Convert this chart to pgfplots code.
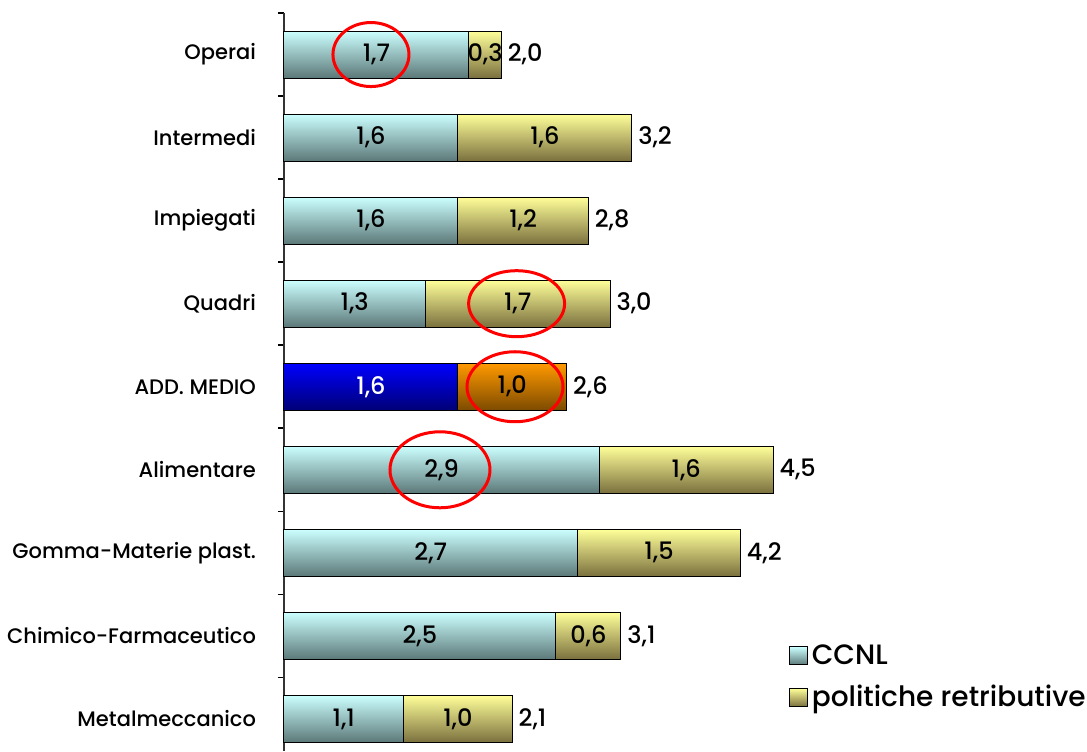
\documentclass[border=0pt]{standalone}
\usepackage{pgfplots}
\pgfplotsset{compat=1.18}
\usepackage{fontspec}
\setmainfont{Poppins}[UprightFont={* Medium}]
\definecolor{cyTop}{RGB}{204,255,255}
\definecolor{cyBot}{RGB}{92,120,120}
\definecolor{yeTop}{RGB}{255,255,153}
\definecolor{yeBot}{RGB}{122,112,62}
\definecolor{blTop}{RGB}{0,0,255}
\definecolor{blBot}{RGB}{0,0,118}
\definecolor{orTop}{RGB}{255,153,0}
\definecolor{orBot}{RGB}{125,75,0}
\pgfplotsset{
  barbase/.style={forget plot, xbar, bar shift=0pt, bar width=23.5pt, draw=black, line width=0.5pt},
  ccnl/.style={barbase, top color=cyTop, bottom color=cyBot},
  pol/.style={barbase, top color=yeTop, bottom color=yeBot},
  ccnlm/.style={barbase, top color=blTop, bottom color=blBot},
  polm/.style={barbase, top color=orTop, bottom color=orBot},
  lbl/.style={forget plot, draw=none, fill=none, mark=none, nodes near coords, point meta=explicit symbolic}
}
\begin{document}
\begin{tikzpicture}
\begin{axis}[
  at={(142pt,0pt)}, anchor=south west,
  scale only axis, width=401.5pt, height=369pt,
  xmin=0, xmax=7.387, ymin=-0.386, ymax=8.5,
  hide x axis,
  axis y line*=left,
  y axis line style={-, line width=1pt, color=black!80},
  ytick={0,...,8},
  yticklabels={Metalmeccanico,Chimico-Farmaceutico,Gomma-Materie plast.,Alimentare,ADD. MEDIO,Quadri,Impiegati,Intermedi,Operai},
  major tick length=0pt,
  minor ytick={-0.5,0.5,...,8.5},
  minor tick length=3pt,
  tick align=outside,
  minor y tick style={black, line width=0.8pt},
  yticklabel style={font=\fontsize{10.5}{13}\selectfont, anchor=east, xshift=-10.5pt},
  clip=false,
  legend style={at={(axis cs:4.64,0.95)}, anchor=north west, draw=none, fill=none,
    font=\fontsize{14}{16}\selectfont, row sep=5pt, inner sep=0pt,
    nodes={inner sep=2pt}},
  legend cell align=left,
  legend image code/.code={\draw[#1, draw=black, line width=0.5pt] (-2.5pt,-4.5pt) rectangle (6.5pt,4.5pt);},
]
% politiche retributive: drawn from 0 to the total (CCNL + politiche), covered on the left by the CCNL bar
\addplot[pol]  coordinates {(2.1,0)};
\addplot[pol]  coordinates {(3.1,1)};
\addplot[pol]  coordinates {(4.2,2)};
\addplot[pol]  coordinates {(4.5,3)};
\addplot[polm] coordinates {(2.6,4)};
\addplot[pol]  coordinates {(3.0,5)};
\addplot[pol]  coordinates {(2.8,6)};
\addplot[pol]  coordinates {(3.2,7)};
\addplot[pol]  coordinates {(2.0,8)};
% CCNL
\addplot[ccnl]  coordinates {(1.1,0)};
\addplot[ccnl]  coordinates {(2.5,1)};
\addplot[ccnl]  coordinates {(2.7,2)};
\addplot[ccnl]  coordinates {(2.9,3)};
\addplot[ccnlm] coordinates {(1.6,4)};
\addplot[ccnl]  coordinates {(1.3,5)};
\addplot[ccnl]  coordinates {(1.6,6)};
\addplot[ccnl]  coordinates {(1.6,7)};
\addplot[ccnl]  coordinates {(1.7,8)};

\addlegendimage{top color=cyTop, bottom color=cyBot}
\addlegendentry{CCNL}
\addlegendimage{top color=yeTop, bottom color=yeBot}
\addlegendentry{politiche retributive}

% value labels
\addplot[lbl, every node near coord/.style={anchor=center, font=\fontsize{12}{13}\selectfont, text=black}]
 coordinates {
 (0.55,0) [{1,1}] (1.25,1) [{2,5}] (1.35,2) [{2,7}] (1.45,3) [{2,9}] (0.65,5) [{1,3}] (0.8,6) [{1,6}] (0.8,7) [{1,6}] (0.85,8) [{1,7}]
 (1.6,0) [{1,0}] (2.8,1) [{0,6}] (3.45,2) [{1,5}] (3.7,3) [{1,6}] (2.1,4) [{1,0}] (2.15,5) [{1,7}] (2.2,6) [{1,2}] (2.4,7) [{1,6}] (1.85,8) [{0,3}]
 };
\addplot[lbl, every node near coord/.style={anchor=center, font=\fontsize{12}{13}\selectfont, text=white}]
 coordinates {(0.8,4) [{1,6}]};
\addplot[lbl, every node near coord/.style={anchor=west, inner sep=2pt, xshift=1pt, font=\fontsize{12}{13}\selectfont, text=black}]
 coordinates {
 (2.1,0) [{2,1}] (3.1,1) [{3,1}] (4.2,2) [{4,2}] (4.5,3) [{4,5}] (2.6,4) [{2,6}] (3.0,5) [{3,0}] (2.8,6) [{2,8}] (3.2,7) [{3,2}] (2.0,8) [{2,0}]
 };

% highlighting ellipses
\draw[red, line width=1.5pt] (axis cs:0.80,8) ellipse [x radius=19pt, y radius=16pt];
\draw[red, line width=1.5pt] (axis cs:2.14,5) ellipse [x radius=24pt, y radius=16.5pt];
\draw[red, line width=1.5pt] (axis cs:2.125,4) ellipse [x radius=24pt, y radius=17.5pt];
\draw[red, line width=1.5pt] (axis cs:1.435,3) ellipse [x radius=25pt, y radius=19pt];
\end{axis}
\pgfresetboundingbox
\path (0,0) rectangle (543.5pt,375.5pt);
\end{tikzpicture}
\end{document}
